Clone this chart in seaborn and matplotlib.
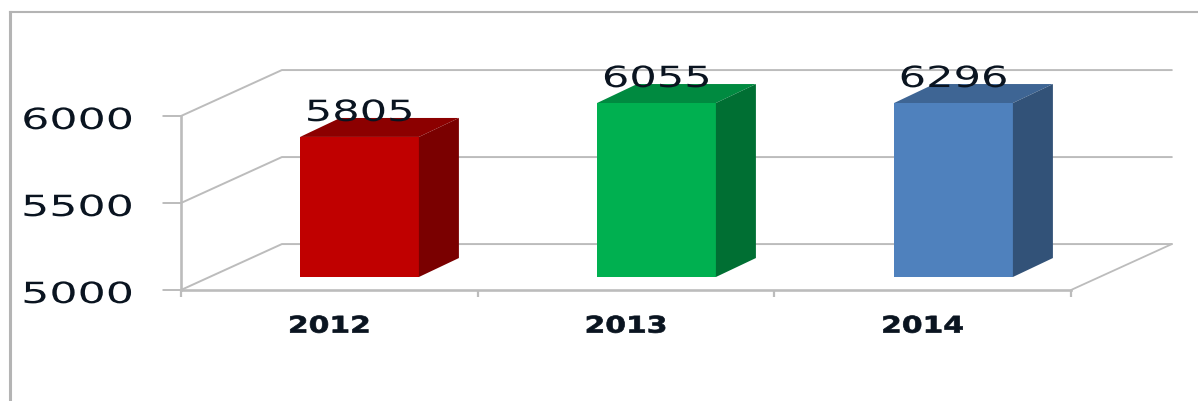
import matplotlib
matplotlib.use("Agg")
import matplotlib.pyplot as plt
import matplotlib.patheffects as pe
from matplotlib.transforms import Affine2D
import pandas as pd
import seaborn as sns

years = ["2012", "2013", "2014"]
values = [5805, 6055, 6296]
face_colors = ["#c00000", "#00b050", "#4f81bd"]
top_colors = ["#8c0000", "#008a40", "#3e6594"]
side_colors = ["#7a0000", "#006f33", "#325278"]
y_ticks = [5000, 5500, 6000]
Y_MIN, Y_MAX = 5000, 6000
GRID = "#bcbcbc"
INK = "#0a1420"

W, H = 1198, 401
sns.set_style("white", {"ytick.left": True, "xtick.bottom": True})


class Stretch(pe.AbstractPathEffect):
    """Widen the glyph outlines of a text about its centre or right edge."""
    def __init__(self, sx, anchor="center", stroke=0, drop=0):
        super().__init__()
        self.sx, self.anchor, self.stroke, self.drop = sx, anchor, stroke, drop

    def draw_path(self, renderer, gc, tpath, affine, rgbFace=None):
        ext = tpath.get_extents()
        x0 = ext.x1 if self.anchor == "right" else (ext.x0 + ext.x1) / 2
        tr = (Affine2D().translate(-x0, 0).scale(self.sx, 1).translate(x0, 0)
              + affine + Affine2D().translate(0, -self.drop))
        gc0 = renderer.new_gc()
        gc0.copy_properties(gc)
        if self.stroke:
            gc0.set_linewidth(self.stroke)
            gc0.set_foreground(rgbFace)
        renderer.draw_path(gc0, tpath, tr, rgbFace)
        gc0.restore()


def box(left, top, right, bottom):
    return [left / W, 1 - bottom / H, (right - left) / W, (bottom - top) / H]


fig = plt.figure(figsize=(W / 100, H / 100), dpi=100, facecolor="white")

# outer chart-area frame
ax_frame = fig.add_axes(box(10, 12, 1198, 401), facecolor="none")
ax_frame.set_xticks([])
ax_frame.set_yticks([])
for s in ("right", "bottom"):
    ax_frame.spines[s].set_visible(False)
for s in ("left", "top"):
    ax_frame.spines[s].set_color("#b4b4b4")
ax_frame.spines["left"].set_linewidth(2.2)
ax_frame.spines["top"].set_linewidth(1.5)

# front plane of the pseudo-3D axes, with walls drawn behind it
ax = fig.add_axes(box(181, 116, 1071, 290), facecolor="none")
ax.set_xlim(-0.5, 2.5)
ax.set_ylim(Y_MIN, Y_MAX)
wall_dx, wall_dy = 0.340, 264
tick_stub = 0.06
for v in y_ticks:
    ax.plot([-0.5 - tick_stub, -0.5, -0.5 + wall_dx, 2.5 + wall_dx],
            [v, v, v + wall_dy, v + wall_dy],
            color=GRID, lw=1.4, clip_on=False, zorder=1)
ax.plot([2.5, 2.5 + wall_dx], [Y_MIN, Y_MIN + wall_dy], color=GRID, lw=1.3,
        clip_on=False, zorder=1)
for s in ("top", "right"):
    ax.spines[s].set_visible(False)
for s in ("left", "bottom"):
    ax.spines[s].set_color(GRID)
    ax.spines[s].set_linewidth(1.9)
ax.set_yticks(y_ticks)
ax.set_yticklabels([str(v) for v in y_ticks], fontsize=21, color=INK,
                   path_effects=[Stretch(1.52, "right", drop=2)])
ax.tick_params(axis="y", which="major", length=0, pad=35)
ax.set_xticks(range(len(years)))
ax.set_xticklabels(years, fontsize=16.5, fontweight="bold", color=INK,
                   path_effects=[Stretch(1.3, stroke=0.5, drop=1)])
ax.tick_params(axis="x", which="major", length=0, pad=17)
ax.set_xticks([-0.5, 0.5, 1.5, 2.5], minor=True)
ax.tick_params(axis="x", which="minor", length=5, width=1.6, color=GRID)

# bars, raised on the floor and clipped at the axis maximum
ax_bars = fig.add_axes(box(211, 103, 1102, 277), facecolor="none")
df = pd.DataFrame({"year": years, "value": values})
sns.barplot(data=df, x="year", y="value", hue="year", order=years, hue_order=years,
            palette=face_colors, width=0.4, saturation=1, legend=False, ax=ax_bars,
            linewidth=0)
ax_bars.set_xlim(-0.5, 2.5)
ax_bars.set_ylim(Y_MIN, Y_MAX)
ax_bars.axis("off")

bar_dx, bar_dy = 0.1347, 109
half = 0.2
for i, v in enumerate(values):
    t = min(v, Y_MAX)
    l, r = i - half, i + half
    ax_bars.fill([l, r, r + bar_dx, l + bar_dx], [t, t, t + bar_dy, t + bar_dy],
                 color=top_colors[i], lw=0, clip_on=False, zorder=3)
    ax_bars.fill([r, r + bar_dx, r + bar_dx, r],
                 [Y_MIN, Y_MIN + bar_dy, t + bar_dy, t],
                 color=side_colors[i], lw=0, clip_on=False, zorder=3)
    ax_bars.annotate(str(v), (i, t), xytext=(0, 11.5), textcoords="offset points",
                     ha="center", va="baseline", fontsize=21, color=INK,
                     annotation_clip=False, zorder=4,
                     path_effects=[Stretch(1.48)])
ax_bars.set_xlim(-0.5, 2.5)
ax_bars.set_ylim(Y_MIN, Y_MAX)

fig.savefig("out.png", dpi=100, facecolor="white")
